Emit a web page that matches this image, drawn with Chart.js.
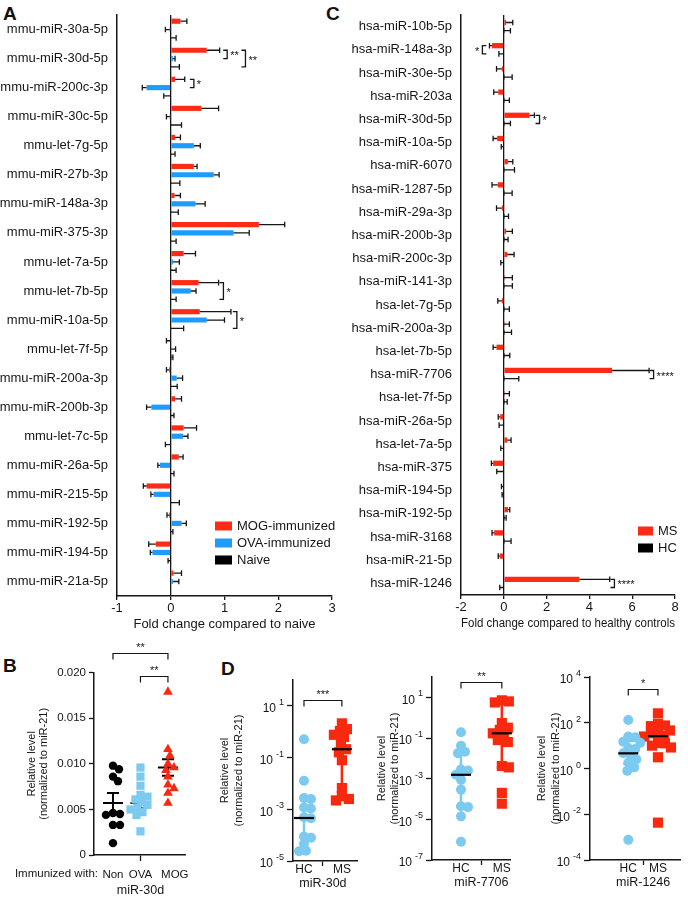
<!DOCTYPE html>
<html>
<head>
<meta charset="utf-8">
<script src="https://cdn.jsdelivr.net/npm/chart.js@4.4.0/dist/chart.umd.min.js"></script>
<style>
  body { margin: 0; background: #fff; width: 688px; height: 900px; position: relative; overflow: hidden;
         font-family: Arial, "Liberation Sans", sans-serif; }
  canvas { position: absolute; }
  .panel { position: absolute; font-weight: bold; font-size: 19px; color: #111; line-height: 1; }
</style>
</head>
<body>
<div class="panel" style="left:3px;top:4px">A</div>
<div class="panel" style="left:326px;top:4px">C</div>
<div class="panel" style="left:3px;top:656px">B</div>
<div class="panel" style="left:221px;top:659px">D</div>

<canvas id="chartA" width="340" height="640" style="left:0;top:0"></canvas>
<canvas id="chartC" width="358" height="640" style="left:330px;top:0"></canvas>
<canvas id="chartB" width="215" height="270" style="left:0;top:630px"></canvas>
<canvas id="chartD1" width="150" height="270" style="left:215px;top:630px"></canvas>
<canvas id="chartD2" width="160" height="270" style="left:365px;top:630px"></canvas>
<canvas id="chartD3" width="163" height="270" style="left:525px;top:630px"></canvas>

<script>
// ---- panel A: mouse serum miRNAs, fold change vs naive ----
const mouseMirs = ['mmu-miR-30a-5p','mmu-miR-30d-5p','mmu-miR-200c-3p','mmu-miR-30c-5p','mmu-let-7g-5p',
  'mmu-miR-27b-3p','mmu-miR-148a-3p','mmu-miR-375-3p','mmu-let-7a-5p','mmu-let-7b-5p','mmu-miR-10a-5p',
  'mmu-let-7f-5p','mmu-miR-200a-3p','mmu-miR-200b-3p','mmu-let-7c-5p','mmu-miR-26a-5p','mmu-miR-215-5p',
  'mmu-miR-192-5p','mmu-miR-194-5p','mmu-miR-21a-5p'];
const mogFold   = [0.18,0.67,0.08,0.57,0.08,0.43,0.07,1.64,0.24,0.52,0.54,-0.01,-0.03,0.08,0.24,0.15,-0.45,-0.03,-0.28,0.05];
const mogSem    = [0.12,0.24,0.18,0.32,0.10,0.06,0.11,0.48,0.22,0.37,0.58,0.07,0.05,0.12,0.24,0.08,0.06,0.04,0.13,0.15];
const ovaFold   = [-0.02,0.04,-0.45,-0.02,0.43,0.80,0.46,1.17,0.04,0.37,0.67,0.01,0.11,-0.36,0.23,-0.20,-0.32,0.20,-0.34,0.04];
const ovaSem    = [0.08,0.04,0.08,0.06,0.12,0.10,0.18,0.29,0.12,0.10,0.33,0.08,0.11,0.09,0.09,0.04,0.05,0.09,0.04,0.11];
const naiveFold = [0,0,-0.01,0,0,0,0,0,0,0,0,0.02,0,0,-0.01,0,0,0,-0.01,0];
const naiveSem  = [0.10,0.16,0.12,0.20,0.08,0.17,0.14,0.10,0.10,0.10,0.24,0.02,0.12,0.06,0.09,0.06,0.16,0.04,0.04,0];
const aLegend = ['MOG-immunized','OVA-immunized','Naive'];
// significance brackets: row, the two bars it joins, where it sits on the x axis
const aSignif = [
  {row: 1, a: 0, b: 1, at: 1.05, text: '**'},
  {row: 1, a: 0, b: 2, at: 1.39, text: '**'},
  {row: 2, a: 0, b: 1, at: 0.43, text: '*'},
  {row: 9, a: 0, b: 2, at: 0.98, text: '*'},
  {row: 10, a: 0, b: 2, at: 1.23, text: '*'}
];

// ---- panel C: human serum miRNAs, fold change vs healthy controls ----
const humanMirs = ['hsa-miR-10b-5p','hsa-miR-148a-3p','hsa-miR-30e-5p','hsa-miR-203a','hsa-miR-30d-5p',
  'hsa-miR-10a-5p','hsa-miR-6070','hsa-miR-1287-5p','hsa-miR-29a-3p','hsa-miR-200b-3p','hsa-miR-200c-3p',
  'hsa-miR-141-3p','hsa-let-7g-5p','hsa-miR-200a-3p','hsa-let-7b-5p','hsa-miR-7706','hsa-let-7f-5p',
  'hsa-miR-26a-5p','hsa-let-7a-5p','hsa-miR-375','hsa-miR-194-5p','hsa-miR-192-5p','hsa-miR-3168',
  'hsa-miR-21-5p','hsa-miR-1246'];
const msFold = [0.11,-0.55,-0.09,-0.26,1.20,-0.31,0.19,-0.28,-0.09,0.11,0.16,0.01,-0.09,0.01,-0.34,5.06,0.01,-0.17,0.16,-0.50,-0.03,0.20,-0.45,-0.19,3.53];
const msSem  = [0.31,0.12,0.25,0.21,0.23,0.19,0.23,0.27,0.25,0.29,0.32,0.39,0.19,0.25,0.16,1.73,0.25,0.09,0.18,0.08,0.08,0.08,0.10,0.07,1.42];
const hcFold = [0.01,-0.01,0.01,0.01,0.01,-0.01,0.01,0.01,0.01,0.01,-0.01,0.01,0.01,0.01,0.01,0.01,0.01,-0.01,-0.01,-0.01,-0.01,0.01,0.01,0,-0.01];
const hcSem  = [0.30,0.22,0.38,0.25,0.30,0.11,0.49,0.38,0.21,0.19,0.13,0.39,0.25,0.35,0.27,0.69,0.15,0.21,0.13,0.32,0.07,0.10,0.33,0,0.18];
const cLegend = ['MS','HC'];
const cSignif = [
  {row: 1, a: 0, b: 1, at: -1.0, text: '*', side: 'left'},
  {row: 4, a: 0, b: 1, at: 1.67, text: '*'},
  {row: 15, a: 0, b: 1, at: 7.0, text: '****'},
  {row: 24, a: 0, b: 1, at: 5.17, text: '****'}
];

// ---- panel B: miR-30d in immunized mice ----
const bGroups = ['Non','OVA','MOG'];
const bNon = [0.0098,0.0094,0.0086,0.0081,0.0046,0.0045,0.0044,0.0033,0.0033,0.0013];
const bOva = [0.0096,0.0086,0.0076,0.0066,0.0064,0.0061,0.0058,0.0055,0.0052,0.0050,0.0047,0.0044,0.0026];
const bMog = [0.0179,0.0116,0.0109,0.0100,0.0096,0.0093,0.0086,0.0077,0.0073,0.0068,0.0057];
const bMean = [0.0057,0.0057,0.0096];
const bSem  = [0.0011,0.0006,0.0009];

// ---- panel D: MS vs HC, log scale ----
const dGroups = ['HC','MS'];
const d30dHC = [0.51,0.0126,0.00275,0.0025,0.00117,0.00107,0.00049,0.00045,8.9e-5,7.9e-5,4.6e-5,2.5e-5,2.4e-5];
const d30dMS = [2.1,1.26,1.07,0.76,0.63,0.35,0.21,0.16,0.079,0.0066,0.0032,0.0025,0.0022];
const d30dMedian = [4.6e-4, 0.21];
const d30dRange = [[8.3e-5, 2.8e-3], [0.0032, 1.0]];
const d30dExps = [1,-1,-3,-5];

const d7706HC = [0.19,0.041,0.021,0.018,0.0028,0.0025,0.00155,0.00089,0.00029,4.4e-5,4.0e-5,1.4e-5,7.9e-7];
const d7706MS = [7.1,6.3,5.6,0.54,0.32,0.25,0.17,0.126,0.079,0.063,0.0042,0.0036,0.0002,5.9e-5];
const d7706Median = [0.00155, 0.17];
const d7706Range = [[4.4e-5, 0.021], [0.0036, 5.6]];
const d7706Exps = [1,-1,-3,-5,-7];

const d1246HC = [132,25,23,14.8,13.2,7.9,7.1,4.6,4.0,2.5,1.8,1.12,0.79,7.6e-4];
const d1246MS = [257,89,76,71,46,42,35,26,25,14.5,12.6,10,8.3,3.1,4.3e-3];
const d1246Median = [4.6, 26];
const d1246Range = [[1.6, 16], [8.9, 71]];
const d1246Exps = [4,2,0,-2,-4];

const FONT = 'Arial, "Liberation Sans", sans-serif';
const INK = '#161616';
const RED = '#FF2B17';
const BLUE = '#1E9BFF';
const DOT_RED = '#F8290F';
const DOT_BLUE = '#7DCAF0';

Chart.defaults.font.family = FONT;
Chart.defaults.color = INK;
Chart.defaults.animation = false;
Chart.defaults.responsive = false;
Chart.defaults.events = [];
Chart.defaults.plugins.legend.display = false;
Chart.defaults.plugins.tooltip.enabled = false;

// error bars (mean + SEM) on horizontal bars, pointing away from zero
const errorBars = {
  id: 'errorBars',
  afterDatasetsDraw(chart) {
    const {ctx} = chart;
    const xs = chart.scales.x;
    ctx.save();
    ctx.strokeStyle = INK;
    ctx.lineWidth = 1.3;
    chart.data.datasets.forEach((ds, di) => {
      chart.getDatasetMeta(di).data.forEach((bar, i) => {
        const v = ds.data[i], e = ds.sem[i];
        if (!e) return;
        const dir = v < 0 ? -1 : 1;
        const x0 = xs.getPixelForValue(v), x1 = xs.getPixelForValue(v + dir * e);
        const h = 2.8;
        ctx.beginPath();
        ctx.moveTo(x0, bar.y); ctx.lineTo(x1, bar.y);
        ctx.moveTo(x1, bar.y - h); ctx.lineTo(x1, bar.y + h);
        ctx.stroke();
      });
    });
    ctx.restore();
  }
};

// "]" style brackets with stars next to grouped bars
const barBrackets = {
  id: 'barBrackets',
  afterDatasetsDraw(chart, args, opts) {
    const {ctx} = chart;
    const xs = chart.scales.x;
    ctx.save();
    ctx.strokeStyle = INK;
    ctx.fillStyle = INK;
    ctx.lineWidth = 1.3;
    ctx.font = '11px ' + FONT;
    ctx.textBaseline = 'middle';
    (opts.items || []).forEach(b => {
      const ya = chart.getDatasetMeta(b.a).data[b.row].y;
      const yb = chart.getDatasetMeta(b.b).data[b.row].y;
      const x = xs.getPixelForValue(b.at);
      const left = b.side === 'left';
      const t = left ? 4 : -4;
      ctx.beginPath();
      ctx.moveTo(x + t, ya); ctx.lineTo(x, ya); ctx.lineTo(x, yb); ctx.lineTo(x + t, yb);
      ctx.stroke();
      ctx.textAlign = left ? 'right' : 'left';
      ctx.fillText(b.text, x + (left ? -3 : 3), (ya + yb) / 2 + 2);
    });
    ctx.restore();
  }
};

// box legend drawn inside the plot
const boxLegend = {
  id: 'boxLegend',
  afterDraw(chart, args, opts) {
    const {ctx} = chart;
    ctx.save();
    ctx.font = '13px ' + FONT;
    ctx.textBaseline = 'middle';
    ctx.textAlign = 'left';
    chart.data.datasets.forEach((ds, i) => {
      const y = opts.top + i * opts.gap;
      ctx.fillStyle = ds.backgroundColor;
      ctx.fillRect(opts.left, y - opts.boxH / 2, opts.boxW, opts.boxH);
      ctx.fillStyle = INK;
      ctx.fillText(ds.label, opts.left + opts.boxW + 5, y);
    });
    ctx.restore();
  }
};

function foldChart(id, cfg) {
  return new Chart(document.getElementById(id), {
    type: 'bar',
    data: {labels: cfg.labels, datasets: cfg.datasets},
    options: {
      indexAxis: 'y',
      categoryPercentage: cfg.catPct,
      barPercentage: cfg.barPct,
      layout: {padding: cfg.pad},
      plugins: {
        barBrackets: {items: cfg.brackets},
        boxLegend: cfg.legend
      },
      scales: {
        x: {
          min: cfg.xMin, max: cfg.xMax,
          ticks: {stepSize: cfg.step, padding: 1, font: {size: 13}, color: INK},
          grid: {
            color: c => (c.tick && c.tick.value === 0 ? INK : 'rgba(0,0,0,0)'),
            lineWidth: 1.3, tickColor: INK, tickLength: 4, tickWidth: 1.3
          },
          border: {color: INK, width: 1.5},
          title: {display: true, text: cfg.xTitle, font: {size: 13}, color: INK, padding: {top: 0, bottom: cfg.titlePad}},
          afterFit: s => { s.height = cfg.xh; s.paddingLeft = 0; s.paddingRight = 0; }
        },
        y: {
          grid: {display: false, drawTicks: false},
          ticks: {font: {size: 13}, padding: 9, autoSkip: false, color: INK},
          border: {color: INK, width: 1.5},
          afterFit: s => { s.width = cfg.yw; s.paddingTop = 0; s.paddingBottom = 0; }
        }
      }
    },
    plugins: [errorBars, barBrackets, boxLegend]
  });
}

foldChart('chartA', {
  labels: mouseMirs,
  datasets: [
    {label: aLegend[0], data: mogFold, sem: mogSem, backgroundColor: RED},
    {label: aLegend[1], data: ovaFold, sem: ovaSem, backgroundColor: BLUE},
    {label: aLegend[2], data: naiveFold, sem: naiveSem, backgroundColor: '#000'}
  ],
  catPct: 0.86, barPct: 0.62,
  pad: {top: 15, right: 8, left: 0, bottom: 0},
  xMin: -1, xMax: 3, step: 1, xh: 44, yw: 117, titlePad: 8,
  xTitle: 'Fold change compared to naive',
  brackets: aSignif,
  legend: {left: 215, top: 526, gap: 17, boxW: 17, boxH: 9}
});

foldChart('chartC', {
  labels: humanMirs,
  datasets: [
    {label: cLegend[0], data: msFold, sem: msSem, backgroundColor: RED},
    {label: cLegend[1], data: hcFold, sem: hcSem, backgroundColor: '#000'}
  ],
  catPct: 0.71, barPct: 0.64,
  pad: {top: 15, right: 13, left: 0, bottom: 0},
  xMin: -2, xMax: 8, step: 2, xh: 45, yw: 131, titlePad: 9,
  xTitle: 'Fold change compared to healthy controls',
  brackets: cSignif,
  legend: {left: 308, top: 531, gap: 17, boxW: 15, boxH: 9}
});

// ---- helpers for the dot plots ----
// mean/median lines and SEM/IQR bars
function drawSummary(chart, items) {
  const {ctx} = chart;
  const xs = chart.scales.x, ys = chart.scales.y;
  ctx.save();
  (items || []).forEach(s => {
    const x = xs.getPixelForValue(s.x);
    ctx.strokeStyle = s.color;
    ctx.lineWidth = s.lw;
    ctx.beginPath();
    if (s.mid !== undefined) {
      const y = ys.getPixelForValue(s.mid);
      ctx.moveTo(x - s.half, y); ctx.lineTo(x + s.half, y);
    }
    if (s.lo !== undefined) {
      const y1 = ys.getPixelForValue(s.lo), y2 = ys.getPixelForValue(s.hi);
      ctx.moveTo(x, y1); ctx.lineTo(x, y2);
      ctx.moveTo(x - s.cap, y1); ctx.lineTo(x + s.cap, y1);
      ctx.moveTo(x - s.cap, y2); ctx.lineTo(x + s.cap, y2);
    }
    ctx.stroke();
  });
  ctx.restore();
}
const summary = {
  id: 'summary',
  beforeDatasetsDraw(chart, args, opts) { drawSummary(chart, opts.under); },
  afterDatasetsDraw(chart, args, opts) { drawSummary(chart, opts.over); }
};

// significance bars over the groups
const sigBars = {
  id: 'sigBars',
  afterDraw(chart, args, opts) {
    const {ctx} = chart;
    const xs = chart.scales.x, ys = chart.scales.y;
    ctx.save();
    ctx.strokeStyle = INK;
    ctx.fillStyle = INK;
    ctx.lineWidth = 1.2;
    ctx.font = '11px ' + FONT;
    ctx.textAlign = 'center';
    ctx.textBaseline = 'alphabetic';
    (opts.items || []).forEach(b => {
      const x1 = xs.getPixelForValue(b.from), x2 = xs.getPixelForValue(b.to);
      const y = Math.round(ys.getPixelForValue(b.at)) + 0.5;
      ctx.beginPath();
      ctx.moveTo(x1, y + 6); ctx.lineTo(x1, y); ctx.lineTo(x2, y); ctx.lineTo(x2, y + 6);
      ctx.stroke();
      ctx.fillText(b.text, (x1 + x2) / 2, y - 3);
    });
    ctx.restore();
  }
};

// free captions under the x axis
const captions = {
  id: 'captions',
  afterDraw(chart, args, opts) {
    const {ctx, chartArea} = chart;
    ctx.save();
    ctx.fillStyle = INK;
    ctx.textBaseline = 'middle';
    (opts.items || []).forEach(c => {
      ctx.font = c.size + 'px ' + FONT;
      ctx.textAlign = c.align || 'center';
      const x = c.xValue !== undefined ? chart.scales.x.getPixelForValue(c.xValue) : chartArea.left + c.dx;
      ctx.fillText(c.text, x, chartArea.bottom + c.dy);
    });
    ctx.restore();
  }
};

// "10" with a raised exponent for the log axes
const powerTicks = {
  id: 'powerTicks',
  afterDraw(chart, args, opts) {
    if (!opts.exps) return;
    const {ctx, chartArea} = chart;
    const ys = chart.scales.y;
    ctx.save();
    ctx.fillStyle = INK;
    ctx.textAlign = 'right';
    opts.exps.forEach(e => {
      const y = ys.getPixelForValue(Math.pow(10, e));
      const right = chartArea.left - 9;
      const es = String(e);
      ctx.font = '9px ' + FONT;
      ctx.textBaseline = 'alphabetic';
      ctx.fillText(es, right, y - 1);
      const w = ctx.measureText(es).width;
      ctx.font = '12px ' + FONT;
      ctx.textBaseline = 'middle';
      ctx.fillText('10', right - w - 3, y + 3);
    });
    ctx.restore();
  }
};

// spread overlapping dots sideways (simple beeswarm)
function spreadPoints(chart, minGap) {
  const xs = chart.scales.x, ys = chart.scales.y;
  chart.data.datasets.forEach(ds => {
    const cx = xs.getPixelForValue(ds.group);
    const placed = [];
    const order = ds.data.map((_, i) => i).sort((a, b) => ds.data[b].y - ds.data[a].y);
    order.forEach(i => {
      const py = ys.getPixelForValue(ds.data[i].y);
      let off = 0;
      for (let k = 0; k < 80; k++) {
        const cand = (k % 2 ? 1 : -1) * Math.ceil(k / 2);
        if (placed.every(p => Math.hypot(p.x - (cx + cand), p.y - py) >= minGap)) { off = cand; break; }
      }
      placed.push({x: cx + off, y: py});
      ds.data[i].x = xs.getValueForPixel(cx + off);
    });
  });
  chart.update('none');
}

function dotSet(values, group, color, style, radius) {
  return {
    group: group,
    data: values.map(v => ({x: group, y: v})),
    pointStyle: style, pointRadius: radius, backgroundColor: color,
    borderWidth: 0, clip: false
  };
}

const yTitle = ['Relative level', '(normalized to miR-21)'];

// ---- panel B ----
const bTickAt = [1, 2, 3.25];
const chartB = new Chart(document.getElementById('chartB'), {
  type: 'scatter',
  data: {
    datasets: [
      dotSet(bNon, 1, '#000', 'circle', 4.2),
      dotSet(bOva, 2, DOT_BLUE, 'rect', 5.8),
      dotSet(bMog, 3, DOT_RED, 'triangle', 5.6)
    ]
  },
  options: {
    layout: {padding: {top: 42.7, right: 30, left: 0, bottom: 0}},
    plugins: {
      summary: {
        under: [0, 1, 2].map(g => ({x: g + 1, mid: bMean[g], lo: bMean[g] - bSem[g], hi: bMean[g] + bSem[g],
          color: '#000', lw: 2, half: 10, cap: 6}))
      },
      sigBars: {items: [
        {from: 1, to: 3, at: 0.0222, text: '**'},
        {from: 2, to: 3, at: 0.0196, text: '**'}
      ]},
      captions: {items: [
        {text: 'Immunized with:', dx: 4, dy: 19, size: 11.5, align: 'right'},
        {text: 'miR-30d', xValue: 2, dy: 36, size: 12.5}
      ]}
    },
    scales: {
      x: {
        type: 'linear', min: 0.31, max: 3.62,
        afterBuildTicks: s => { s.ticks = bTickAt.map(v => ({value: v})); },
        ticks: {callback: v => bGroups[bTickAt.indexOf(v)], font: {size: 11.5}, padding: 7, maxRotation: 0, autoSkip: false, color: INK},
        grid: {drawOnChartArea: false, tickLength: 6, tickWidth: 1.3,
               tickColor: c => (c.tick && c.tick.value === 2 ? INK : 'rgba(0,0,0,0)')},
        border: {color: INK, width: 1.5},
        afterFit: s => { s.height = 45; s.paddingLeft = 0; s.paddingRight = 0; }
      },
      y: {
        min: 0, max: 0.02,
        ticks: {stepSize: 0.005, callback: v => (v === 0 ? '0' : v.toFixed(3)), font: {size: 11.5}, padding: 3, color: INK},
        grid: {drawOnChartArea: false, tickLength: 5, tickColor: INK, tickWidth: 1.3},
        border: {color: INK, width: 1.5},
        title: {display: true, text: yTitle, font: {size: 11, lineHeight: 1.1}, color: INK, padding: {top: 26, bottom: 0}},
        afterFit: s => { s.width = 94; s.paddingTop = 0; s.paddingBottom = 0; }
      }
    }
  },
  plugins: [summary, sigBars, captions]
});
spreadPoints(chartB, 6.5);

// ---- panel D ----
function logDotChart(id, cfg) {
  const chart = new Chart(document.getElementById(id), {
    type: 'scatter',
    data: {
      datasets: [
        dotSet(cfg.hc, 1, DOT_BLUE, 'circle', 5),
        dotSet(cfg.ms, 2, DOT_RED, 'rect', 7.2)
      ]
    },
    options: {
      layout: {padding: {top: cfg.top, right: cfg.right, left: 0, bottom: 0}},
      plugins: {
        summary: {
          under: [0, 1].map(g => ({x: g + 1, lo: cfg.range[g][0], hi: cfg.range[g][1],
            color: g ? DOT_RED : DOT_BLUE, lw: 2.5, cap: 5})),
          over: [0, 1].map(g => ({x: g + 1, mid: cfg.median[g], color: '#000', lw: 2.2, half: 10}))
        },
        sigBars: {items: [{from: 1, to: 2, at: cfg.sigAt, text: cfg.sig}]},
        captions: {items: [{text: cfg.title, xValue: 1.5, dy: 23, size: 12.5}]},
        powerTicks: {exps: cfg.exps}
      },
      scales: {
        x: {
          type: 'linear', min: cfg.xMin, max: cfg.xMax,
          afterBuildTicks: s => { s.ticks = [{value: 1}, {value: 1.5}, {value: 2}]; },
          ticks: {callback: v => (v === 1 ? dGroups[0] : v === 2 ? dGroups[1] : ''), font: {size: 12},
                  padding: -4, maxRotation: 0, autoSkip: false, color: INK},
          grid: {drawOnChartArea: false, tickLength: 5, tickWidth: 1.3,
                 tickColor: c => (c.tick && c.tick.value === 1.5 ? INK : 'rgba(0,0,0,0)')},
          border: {color: INK, width: 1.5},
          afterFit: s => { s.height = cfg.xh; s.paddingLeft = 0; s.paddingRight = 0; }
        },
        y: {
          type: 'logarithmic', min: cfg.yMin, max: cfg.yMax,
          afterBuildTicks: s => { s.ticks = cfg.exps.map(e => ({value: Math.pow(10, e)})); },
          ticks: {display: false},
          grid: {drawOnChartArea: false, tickLength: 6, tickColor: INK, tickWidth: 1.3},
          border: {color: INK, width: 1.5},
          title: {display: true, text: yTitle, font: {size: 11, lineHeight: cfg.titleLh}, color: INK,
                  padding: {top: cfg.titlePad, bottom: 0}},
          afterFit: s => { s.width = cfg.yw; s.paddingTop = 0; s.paddingBottom = 0; }
        }
      }
    },
    plugins: [summary, sigBars, captions, powerTicks]
  });
  spreadPoints(chart, 7);
  return chart;
}

logDotChart('chartD1', {
  hc: d30dHC, ms: d30dMS, median: d30dMedian, range: d30dRange, exps: d30dExps,
  yMin: 1e-5, yMax: 100, xMin: 0.71, xMax: 2.42,
  top: 50, right: 7, yw: 78, xh: 39, titleLh: 1.27, titlePad: 3,
  sigAt: 17, sig: '***', title: 'miR-30d'
});
logDotChart('chartD2', {
  hc: d7706HC, ms: d7706MS, median: d7706Median, range: d7706Range, exps: d7706Exps,
  yMin: 1e-7, yMax: 100, xMin: 0.29, xMax: 2.2,
  top: 47, right: 15, yw: 67, xh: 40, titleLh: 1.21, titlePad: 10,
  sigAt: 56, sig: '**', title: 'miR-7706'
});
logDotChart('chartD3', {
  hc: d1246HC, ms: d1246MS, median: d1246Median, range: d1246Range, exps: d1246Exps,
  yMin: 1e-4, yMax: 1e4, xMin: -0.29, xMax: 2.77,
  top: 47, right: 3, yw: 65, xh: 40, titleLh: 1.36, titlePad: 9,
  sigAt: 2900, sig: '*', title: 'miR-1246'
});
</script>
</body>
</html>
